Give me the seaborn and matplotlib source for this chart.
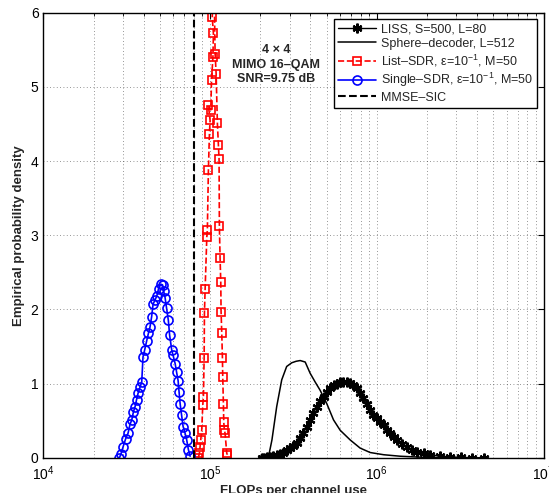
import numpy as np
import pandas as pd
import matplotlib
matplotlib.use("Agg")
import matplotlib.pyplot as plt
import seaborn as sns
from matplotlib.ticker import LogLocator, NullFormatter

# data (FLOPs per channel use, density)
liss_x = [2.04e5, 2.12e5, 2.2e5, 2.29e5, 2.4e5, 2.51e5, 2.63e5, 2.75e5, 2.88e5, 3.02e5,
          3.16e5, 3.31e5, 3.47e5, 3.63e5, 3.8e5, 3.98e5, 4.17e5, 4.37e5, 4.57e5, 4.79e5,
          5.01e5, 5.25e5, 5.5e5, 5.75e5, 6.03e5, 6.31e5, 6.61e5, 6.92e5, 7.24e5, 7.59e5,
          7.94e5, 8.32e5, 8.71e5, 9.12e5, 9.55e5, 1.0e6, 1.05e6, 1.1e6, 1.15e6, 1.2e6,
          1.26e6, 1.32e6, 1.41e6, 1.51e6, 1.62e6, 1.74e6, 1.91e6, 2.09e6, 2.4e6, 2.75e6,
          3.2e6, 3.7e6, 4.37e6]
liss_y = [0, 0, 0.01, 0.01, 0.02, 0.03, 0.05, 0.07, 0.10, 0.13,
          0.16, 0.20, 0.26, 0.33, 0.42, 0.51, 0.60, 0.69, 0.76, 0.82,
          0.88, 0.94, 0.98, 1.0, 1.02, 1.02, 1.02, 1.01, 0.98, 0.94,
          0.87, 0.80, 0.72, 0.64, 0.58, 0.53, 0.48, 0.44, 0.38, 0.33,
          0.28, 0.24, 0.19, 0.15, 0.11, 0.08, 0.06, 0.04, 0.02, 0.01,
          0.005, 0, 0]

sphere_x = [2.2e5, 2.24e5, 2.35e5, 2.51e5, 2.69e5, 2.88e5, 3.09e5, 3.28e5, 3.47e5, 3.72e5,
            3.98e5, 4.27e5, 4.57e5, 5.01e5, 5.5e5, 6.03e5, 6.92e5, 7.94e5, 9.12e5, 1.1e6,
            1.38e6, 1.91e6, 3.16e6]
sphere_y = [0, 0.01, 0.24, 0.69, 1.05, 1.23, 1.28, 1.30, 1.31, 1.29,
            1.14, 1.02, 0.91, 0.73, 0.51, 0.37, 0.24, 0.13, 0.07, 0.04,
            0.02, 0.005, 0]

list_x = [8.51e4, 8.63e4, 8.71e4, 8.79e4, 8.91e4, 9.04e4, 9.12e4, 9.21e4, 9.25e4, 9.34e4,
          9.56e4, 9.63e4, 9.77e4, 9.91e4, 1.00e5, 9.77e4, 1.01e5, 1.02e5, 1.04e5, 1.047e5,
          1.03e5, 1.054e5, 1.072e5, 1.087e5, 1.106e5, 1.122e5, 1.132e5, 1.137e5, 1.148e5, 1.159e5,
          1.164e5, 1.175e5, 1.186e5, 1.191e5, 1.202e5, 1.208e5, 1.218e5, 1.23e5, 1.259e5, 1.27e5]
list_y = [0, 0.06, 0.15, 0.24, 0.37, 0.71, 0.82, 1.34, 1.95, 2.28,
          2.98, 3.07, 3.88, 4.37, 4.55, 4.75, 4.69, 5.09, 5.40, 5.72,
          5.94, 6.5, 5.45, 5.18, 4.51, 4.21, 4.03, 3.13, 2.69, 2.37,
          1.97, 1.68, 1.34, 1.09, 0.73, 0.48, 0.37, 0.33, 0.06, 0.04]

single_x = [2.86e4, 2.92e4, 3.01e4, 3.11e4, 3.22e4, 3.31e4, 3.39e4, 3.47e4, 3.55e4, 3.62e4,
            3.70e4, 3.80e4, 3.89e4, 3.96e4, 4.05e4, 4.17e4, 4.27e4, 4.36e4, 4.46e4, 4.55e4,
            4.68e4, 4.79e4, 4.91e4, 5.06e4, 5.19e4, 5.26e4, 5.37e4, 5.48e4, 5.62e4, 5.72e4,
            5.89e4, 6.00e4, 6.17e4, 6.30e4, 6.43e4, 6.52e4, 6.61e4, 6.75e4, 6.89e4, 7.08e4,
            7.24e4, 7.41e4, 7.59e4]
single_y = [0, 0.05, 0.15, 0.25, 0.33, 0.45, 0.51, 0.62, 0.69, 0.78,
            0.87, 0.95, 1.02, 1.36, 1.45, 1.58, 1.68, 1.76, 1.9, 2.07,
            2.13, 2.18, 2.28, 2.34, 2.33, 2.25, 2.16, 2.02, 1.85, 1.65,
            1.45, 1.38, 1.27, 1.15, 1.04, 0.88, 0.73, 0.57, 0.42, 0.33,
            0.24, 0.11, 0.02]

mmse_x = [8.0e4, 8.0e4]
mmse_y = [0, 6]

labels = ['LISS, S=500, L=80',
          'Sphere\u2013decoder, L=512',
          'List\u2013SDR, \u03b5=10$^{\u22121}$, M=50',
          'Single\u2013SDR, \u03b5=10$^{\u22121}$, M=50',
          'MMSE\u2013SIC']

sns.set_theme(style='white')
plt.rcParams['font.family'] = ['Liberation Sans', 'DejaVu Sans']
plt.rcParams['mathtext.fontset'] = 'custom'
plt.rcParams['mathtext.rm'] = 'Liberation Sans'
plt.rcParams['mathtext.default'] = 'regular'

fig = plt.figure(figsize=(5.49, 4.93), dpi=100)
ax = fig.add_axes([0.079, 0.0716, 0.911, 0.9026])

common = dict(estimator=None, sort=False, ax=ax)
sns.lineplot(x=liss_x, y=liss_y, color='black', lw=1, marker=(6, 2, 0), ms=7,
             mec='black', mfc='black', mew=1.6, label=labels[0], **common)
sns.lineplot(x=sphere_x, y=sphere_y, color='black', lw=1.1, label=labels[1], **common)
sns.lineplot(x=list_x, y=list_y, color='red', lw=1.2, linestyle='--', dashes=(4, 3),
             marker='s', ms=6, mfc='none', mec='red', mew=1.2, label=labels[2], **common)
sns.lineplot(x=single_x, y=single_y, color='blue', lw=1.2, marker='o', ms=6.5,
             mfc='none', mec='blue', mew=1.2, label=labels[3], **common)
sns.lineplot(x=mmse_x, y=mmse_y, color='black', lw=1.5, linestyle='--', dashes=(4, 3),
             label=labels[4], **common)

ax.set_xscale('log')
ax.set_xlim(1e4, 1e7)
ax.set_ylim(0, 6)
ax.set_yticks(range(0, 7))
ax.xaxis.set_minor_locator(LogLocator(base=10, subs=np.arange(2, 10), numticks=20))
ax.xaxis.set_minor_formatter(NullFormatter())

ax.grid(True, which='major', axis='both', linestyle=(0, (1, 3)), color='black', lw=0.6, alpha=0.55)
ax.grid(True, which='minor', axis='x', linestyle=(0, (1, 3)), color='black', lw=0.6, alpha=0.55)

ax.tick_params(which='both', direction='in', top=True, right=True, labelsize=10, colors='black')
ax.tick_params(which='major', length=4, width=0.8)
ax.tick_params(axis='x', which='major', pad=5)
ax.tick_params(which='minor', length=2, width=0.6)
for s in ax.spines.values():
    s.set_color('black')
    s.set_linewidth(1.0)

ax.set_xlabel('FLOPs per channel use', fontsize=9.5, fontweight='bold', labelpad=1)
ax.set_ylabel('Empirical probability density', fontsize=9.5, fontweight='bold', labelpad=4)

ax.text(2.5e5, 5.3, '4 \u00d7 4\nMIMO 16\u2013QAM\nSNR=9.75 dB', ha='center', va='center',
        fontsize=9, fontweight='bold', linespacing=1.25)

leg = ax.legend(loc='upper right', fontsize=9, frameon=True, fancybox=False, framealpha=1,
                edgecolor='black', handlelength=3.0, handletextpad=0.4, labelspacing=0.2,
                borderpad=0.35, borderaxespad=0.5)
leg.get_frame().set_linewidth(1.0)

fig.savefig('out.png', dpi=100)
